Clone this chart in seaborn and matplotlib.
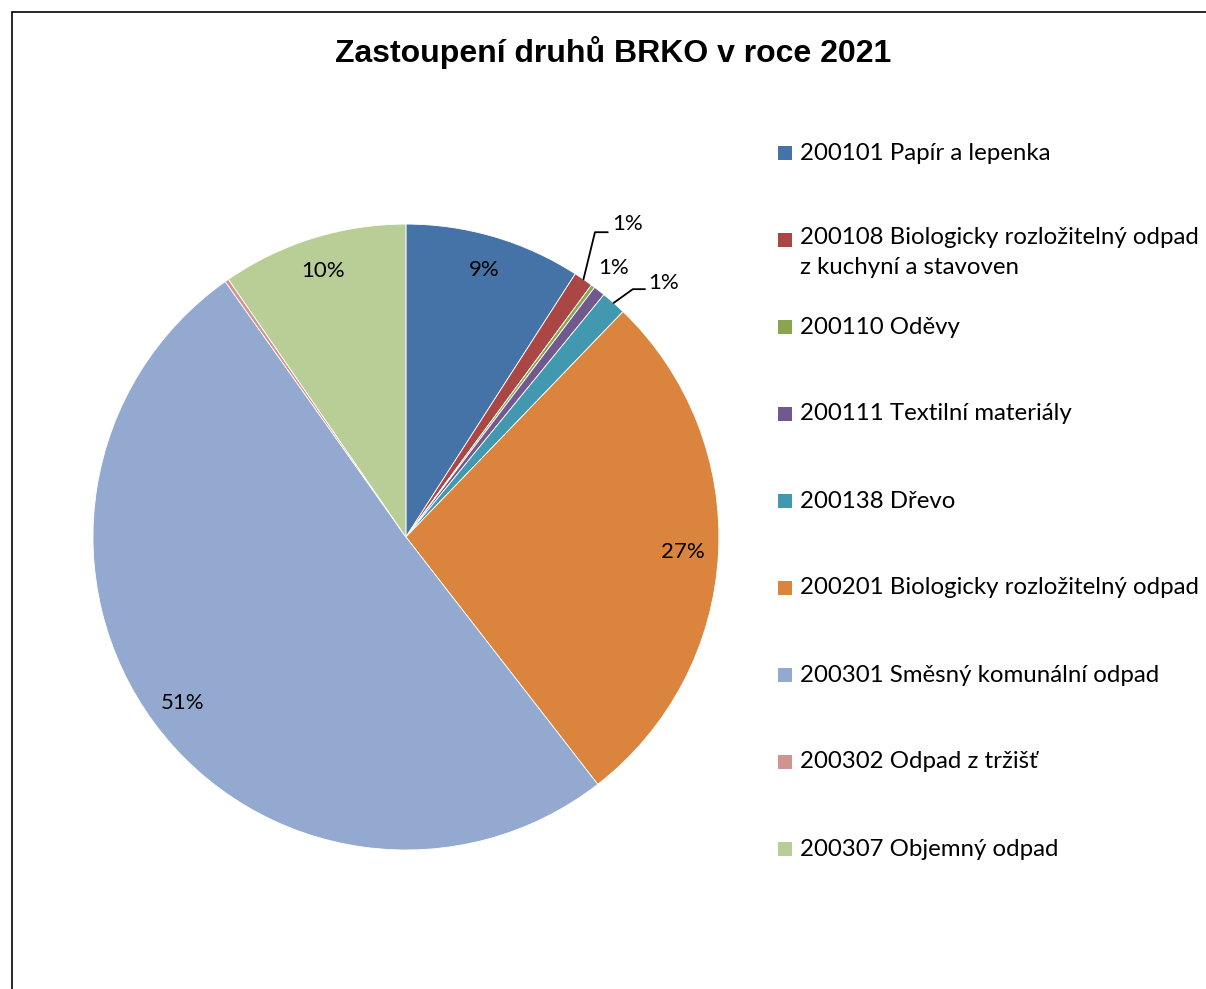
import numpy as np
import matplotlib.pyplot as plt
from matplotlib.patches import Rectangle
import seaborn as sns

sns.set_theme(style="white")
plt.rcParams['font.family'] = ['Lato', 'DejaVu Sans']
plt.rcParams['text.color'] = 'black'

title = "Zastoupení druhů BRKO v roce 2021"
categories = [
    "200101 Papír a lepenka",
    "200108 Biologicky rozložitelný odpad\nz kuchyní a stavoven",
    "200110 Oděvy",
    "200111 Textilní materiály",
    "200138 Dřevo",
    "200201 Biologicky rozložitelný odpad",
    "200301 Směsný komunální odpad",
    "200302 Odpad z tržišť",
    "200307 Objemný odpad",
]
shares = [9.1, 1.0, 0.2, 0.6, 1.3, 27.3, 50.7, 0.2, 9.6]
colors = ["#4572A7", "#AA4643", "#89A54E", "#71588F", "#4198AF",
          "#DB843D", "#93A9CF", "#D19392", "#B9CD96"]

fig = plt.figure(figsize=(12.06, 9.89), dpi=100)
# chart frame (cropped at right/bottom like the original)
fig.patches.append(Rectangle((0.01, -0.1), 1.2, 1.088, transform=fig.transFigure,
                             fill=False, edgecolor="black", linewidth=1.2))

ax = fig.add_axes([0.0771, 0.1405, 0.519, 0.633])
wedges, _ = ax.pie(shares, colors=colors, startangle=90, counterclock=False,
                   wedgeprops=dict(edgecolor="white", linewidth=0.6))
ax.set_xlim(-1, 1)
ax.set_ylim(-1, 1)
ax.set_aspect("equal")
ax.axis("off")

# percentage labels: inside ones by radius, outside ones by text position (+ leader elbow)
inside = {0: 0.89, 5: 0.885, 6: 0.89, 8: 0.89}
outside = {
    1: ((0.709, 1.0), (0.604, 0.645, 0.974)),
    3: ((0.665, 0.859), None),
    4: ((0.824, 0.811), (0.725, 0.764, 0.792)),
}
for i, w in enumerate(wedges):
    mid = np.deg2rad((w.theta1 + w.theta2) / 2)
    label = f"{shares[i]:.0f}%"
    if i in inside:
        r = inside[i]
        ax.text(r * np.cos(mid), r * np.sin(mid), label, ha="center", va="center",
                fontsize=16)
    elif i in outside:
        (tx, ty), leader = outside[i]
        ax.text(tx, ty, label, ha="center", va="center", fontsize=16)
        if leader:
            ex, ey = np.cos(mid), np.sin(mid)
            x1, x2, ly = leader
            ax.plot([ex, x1, x2], [ey, ly, ly], color="black", lw=1.3)

# title
fig.text(0.508, 0.947, title, ha="center", va="center", fontsize=23,
         fontweight="bold", family=["Liberation Sans", "DejaVu Sans"])

# legend
y0 = 153
step = 87
for i, (cat, col) in enumerate(zip(categories, colors)):
    y = (989 - (y0 + i * step)) / 989
    fig.patches.append(Rectangle((778 / 1206, y - 7 / 989), 14 / 1206, 14 / 989,
                                 transform=fig.transFigure, facecolor=col, edgecolor="none"))
    if "\n" in cat:
        fig.text(800 / 1206, y + 13 / 989, cat, ha="left", va="top", fontsize=17.3,
                 linespacing=1.5)
    else:
        fig.text(800 / 1206, y, cat, ha="left", va="center", fontsize=17.3)

fig.savefig("out.png", dpi=100)
